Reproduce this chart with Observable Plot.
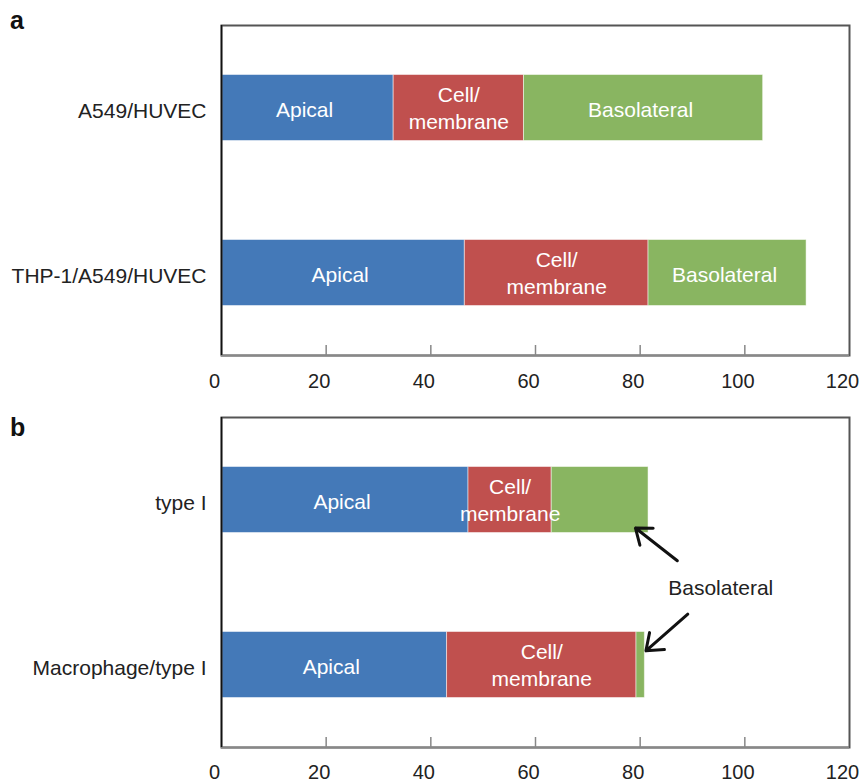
<!DOCTYPE html>
<html><head><meta charset="utf-8">
<script src="https://cdn.jsdelivr.net/npm/d3@7"></script>
<script src="https://cdn.jsdelivr.net/npm/@observablehq/plot@0.6"></script>
<style>
body{margin:0;background:#fff;}
#wrap{position:relative;width:859px;height:782px;font-family:"Liberation Sans",Arial,sans-serif;}
.panel-letter{position:absolute;left:10px;font-size:25px;font-weight:bold;line-height:1;color:#111;}
#chart svg{display:block;}
</style></head><body>
<div id="wrap">
  <div id="chart"></div>
  <div class="panel-letter" style="top:8px">a</div>
  <div class="panel-letter" style="top:415px">b</div>
</div>
<script>
const compartments = ["Apical", "Cell/membrane", "Basolateral"];
const compartmentLabels = ["Apical", "Cell/\nmembrane", "Basolateral"];
const compartmentColors = ["#4479B8", "#C0504E", "#89B561"];

const panelACategories = ["A549/HUVEC", "THP-1/A549/HUVEC"];
const panelAApical = [32.9, 46.5];
const panelACellMembrane = [24.9, 35.1];
const panelABasolateral = [45.7, 30.2];

const panelBCategories = ["type I", "Macrophage/type I"];
const panelBApical = [47.2, 43.1];
const panelBCellMembrane = [15.9, 36.2];
const panelBBasolateral = [18.5, 1.6];
const panelBAnnotation = "Basolateral";

const xTicks = [0, 20, 40, 60, 80, 100, 120];

function buildRows(categories, series, labelled) {
  const rows = [];
  categories.forEach((cat, i) => {
    let start = 0;
    compartments.forEach((c, j) => {
      const v = series[j][i];
      rows.push({category: cat, row: i + 1, part: c, x1: start, x2: start + v,
                 label: labelled[j] ? compartmentLabels[j] : ""});
      start += v;
    });
  });
  return rows;
}

const rowsA = buildRows(panelACategories, [panelAApical, panelACellMembrane, panelABasolateral], [true, true, true]);
const rowsB = buildRows(panelBCategories, [panelBApical, panelBCellMembrane, panelBBasolateral], [true, true, false]);

function panel(rows, categories, height, marginTop, marginBottom, tickPad, extra) {
  const single = rows.filter(d => d.label && !d.label.includes("\n"));
  const multi = rows.filter(d => d.label && d.label.includes("\n"));
  return Plot.plot({
    width: 859, height, marginLeft: 221, marginRight: 10, marginTop, marginBottom,
    style: {fontFamily: "'Liberation Sans', Arial, sans-serif", fontSize: "21px", color: "#222", background: "white", overflow: "visible"},
    x: {domain: [0, 120], label: null},
    y: {domain: [0.5, 2.5], reverse: true, label: null},
    color: {domain: compartments, range: compartmentColors},
    marks: [
      Plot.rect(rows, {x1: "x1", x2: "x2", y1: d => d.row - 0.2, y2: d => d.row + 0.2, fill: "part",
                       stroke: "white", strokeOpacity: 0.5, strokeWidth: 1}),
      Plot.text(single, {x: d => (d.x1 + d.x2) / 2, y: "row", text: "label",
                       fill: "white", dy: 2, dx: -3, fontSize: 21}),
      Plot.text(multi, {x: d => (d.x1 + d.x2) / 2, y: "row", text: "label",
                       fill: "white", lineHeight: 1.27, dy: -1, fontSize: 21}),
      Plot.frame({stroke: "#555", strokeWidth: 2}),
      Plot.ruleY([2.5], {stroke: "#888", strokeWidth: 2}),
      Plot.ruleX([0], {stroke: "#111", strokeWidth: 1.5}),
      Plot.ruleX(xTicks.slice(1, -1), {y1: 2.5, y2: 2.5, insetTop: -10, stroke: "#888", strokeWidth: 1.5}),
      Plot.axisX(xTicks, {tickSize: 0, tickPadding: tickPad, dx: -7, fontSize: 20, label: null}),
      Plot.axisY([1, 2], {tickSize: 0, tickPadding: 15, dy: 3, tickFormat: v => categories[v - 1], fontSize: 21, label: null}),
      ...extra
    ]
  });
}

const chart = document.getElementById("chart");
chart.append(panel(rowsA, panelACategories, 400, 25, 45, 18, []));
chart.append(panel(rowsB, panelBCategories, 382, 17, 35, 17, [
  Plot.text([panelBAnnotation], {x: 95.4, y: 1.536, text: d => d, fill: "#222", fontSize: 21}),
  Plot.arrow([
    {x1: 87.1, y1: 1.368, x2: 79.1, y2: 1.17},
    {x1: 89.1, y1: 1.692, x2: 81.1, y2: 1.914}
  ], {x1: "x1", y1: "y1", x2: "x2", y2: "y2", stroke: "#111", strokeWidth: 3, headLength: 14, headAngle: 75})
]));
</script>
</body></html>
